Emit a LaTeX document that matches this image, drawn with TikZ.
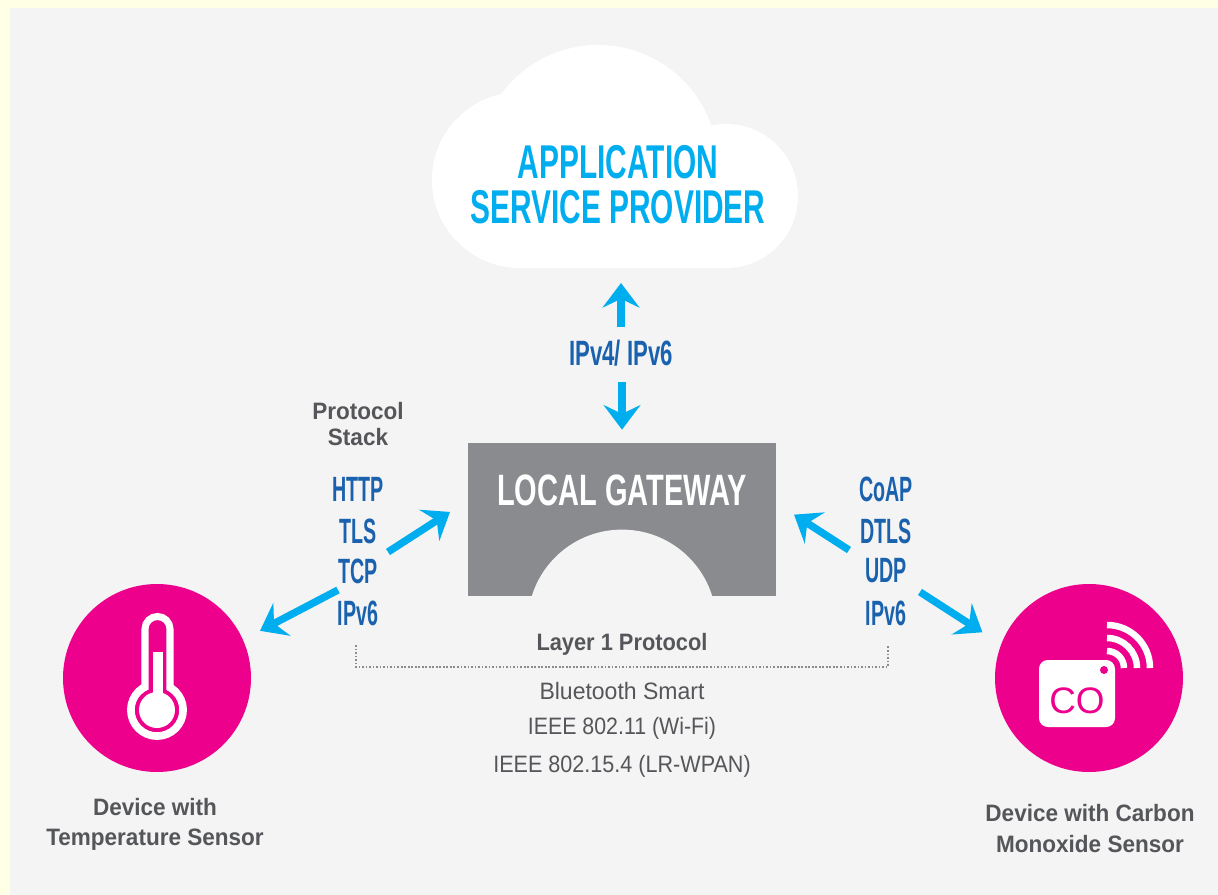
\documentclass[tikz,border=0pt]{standalone}
\usepackage{fontspec}
\setmainfont{Liberation Sans}
\usetikzlibrary{arrows.meta}
\definecolor{pagecream}{HTML}{FFFFE6}
\definecolor{panelgray}{HTML}{F4F4F4}
\definecolor{flowblue}{HTML}{00AEEF}
\definecolor{stackblue}{HTML}{1A62AE}
\definecolor{gatewaygray}{HTML}{898B8E}
\definecolor{devicepink}{HTML}{EC008C}
\definecolor{captiongray}{HTML}{55565A}
\newcommand{\squeeze}[2]{\scalebox{#1}[1]{#2}}
\tikzset{
    flow/.style={line width=4.2pt, flowblue, -{Stealth[length=14pt, width=21pt, inset=5pt]}},
    cloudtext/.style={text=flowblue, font=\fontsize{27}{30}\selectfont\bfseries, inner sep=0pt},
    stacktext/.style={text=stackblue, font=\fontsize{20}{22}\selectfont\bfseries, inner sep=0pt},
    caption/.style={text=captiongray, font=\fontsize{13.5}{15}\selectfont\bfseries, inner sep=0pt},
    plaincaption/.style={text=captiongray, font=\fontsize{13.5}{15}\selectfont, inner sep=0pt},
    device/.style={circle, fill=devicepink, minimum size=188*0.02cm, inner sep=0pt}
}

\begin{document}
\begin{tikzpicture}[x=0.02cm, y=-0.02cm]
    \useasboundingbox (0, 0) rectangle (1218, 895);
    \fill[pagecream] (0, 0) rectangle (1218, 895);
    \fill[panelgray] (10, 8) rectangle (1218, 895);

    % cloud
    \begin{scope}
        \clip (400, 30) rectangle (830, 268);
        \fill[white] (520, 180) circle (88);
        \fill[white] (598, 165) circle (120);
        \fill[white] (726, 196) circle (72);
        \fill[white] (520, 200) rectangle (726, 268);
    \end{scope}
    \node[cloudtext] (appline) at (618, 162) {\squeeze{0.63}{APPLICATION}};
    \node[cloudtext] (serviceline) at (618, 207) {\squeeze{0.63}{SERVICE PROVIDER}};
    \coordinate (cloudbase) at (621, 268);

    % gateway
    \node[fill=gatewaygray, minimum width=308*0.02cm, minimum height=153*0.02cm, inner sep=0pt] (gateway) at (622, 519.5) {};
    \begin{scope}
        \clip (468, 443) rectangle (776, 596);
        \fill[panelgray] (622, 624) circle (94.4);
    \end{scope}
    \node[text=white, font=\fontsize{25}{27}\selectfont\bfseries, inner sep=0pt] (gatewayname) at (622, 490) {\squeeze{0.66}{LOCAL GATEWAY}};

    % devices
    \node[device] (tempdevice) at (157, 678) {};
    \node[device] (codevice) at (1089, 678) {};

    % thermometer
    \draw[white, line width=4.5pt, fill=devicepink] (157, 710) circle (26);
    \draw[white, line width=4pt, fill=devicepink] (145, 705) -- (145, 629) arc (180:360:12.5) -- (170, 705);
    \fill[devicepink] (157, 710) circle (22);
    \fill[white] (157, 710) circle (18);
    \fill[white] (152.7, 652) rectangle (163.3, 700);

    % sensor
    \foreach \wifirad in {17, 30, 43} {
        \draw[white, line width=3.7pt] (1107, 668-\wifirad) arc (-90:0:\wifirad);
    }
    \fill[white, rounded corners=5pt] (1039, 660) rectangle (1115, 727);
    \fill[devicepink] (1104, 670) circle (4);
    \node[text=devicepink, font=\fontsize{21}{23}\selectfont, inner sep=0pt] (coname) at (1077, 701) {CO};

    % stacks
    \node[stacktext] (http) at (358, 489) {\squeeze{0.56}{HTTP}};
    \node[stacktext] (tls) at (358, 531) {\squeeze{0.56}{TLS}};
    \node[stacktext] (tcp) at (358, 571) {\squeeze{0.56}{TCP}};
    \node[stacktext] (ipleft) at (358, 613) {\squeeze{0.56}{IPv6}};
    \node[stacktext] (coap) at (886, 489) {\squeeze{0.56}{CoAP}};
    \node[stacktext] (dtls) at (886, 531) {\squeeze{0.56}{DTLS}};
    \node[stacktext] (udp) at (886, 571) {\squeeze{0.56}{UDP}};
    \node[stacktext] (ipright) at (886, 613) {\squeeze{0.56}{IPv6}};
    \node[stacktext] (ipboth) at (621, 353) {\squeeze{0.63}{IPv4/ IPv6}};

    % arrows
    \coordinate (upstart) at (621, 327);
    \coordinate (downstart) at (622, 382);
    \coordinate (leftup) at (388, 552);
    \coordinate (leftdown) at (338, 590);
    \coordinate (rightup) at (849, 550);
    \coordinate (rightdown) at (920, 592);
    \draw[flow, shorten >=15*0.02cm] (upstart) -- (cloudbase);
    \draw[flow, shorten >=13*0.02cm] (downstart) -- (gateway.north);
    \draw[flow, shorten >=21*0.02cm] (leftup) -- (gateway.173.4);
    \draw[flow, shorten >=21*0.02cm] (rightup) -- (gateway.6.6);
    \draw[flow, shorten >=19*0.02cm] (leftdown) -- (tempdevice.24);
    \draw[flow, shorten >=22*0.02cm] (rightdown) -- (codevice.159);

    % captions
    \node[caption] (protocolline) at (358, 411) {\squeeze{0.95}{Protocol}};
    \node[caption] (stackline) at (358, 437) {\squeeze{0.95}{Stack}};
    \node[caption] (layerone) at (622, 644) {\squeeze{0.92}{Layer 1 Protocol}};
    \node[plaincaption] (bluetooth) at (622, 691) {\squeeze{0.97}{Bluetooth Smart}};
    \node[plaincaption] (wifi) at (622, 728) {\squeeze{0.9}{IEEE 802.11 (Wi-Fi)}};
    \node[plaincaption] (wpan) at (622, 766) {\squeeze{0.91}{IEEE 802.15.4 (LR-WPAN)}};
    \node[caption] (tempone) at (155, 807) {\squeeze{0.95}{Device with}};
    \node[caption] (temptwo) at (155, 840) {\squeeze{0.95}{Temperature Sensor}};
    \node[caption] (coone) at (1090, 813) {\squeeze{0.95}{Device with Carbon}};
    \node[caption] (cotwo) at (1090, 844) {\squeeze{0.95}{Monoxide Sensor}};

    % layer bracket
    \coordinate (bracketleft) at (356, 645);
    \coordinate (bracketright) at (888, 645);
    \draw[gatewaygray, line width=1pt, densely dotted] (bracketleft) -- (356, 667) -- (888, 667) -- (bracketright);
\end{tikzpicture}
\end{document}
